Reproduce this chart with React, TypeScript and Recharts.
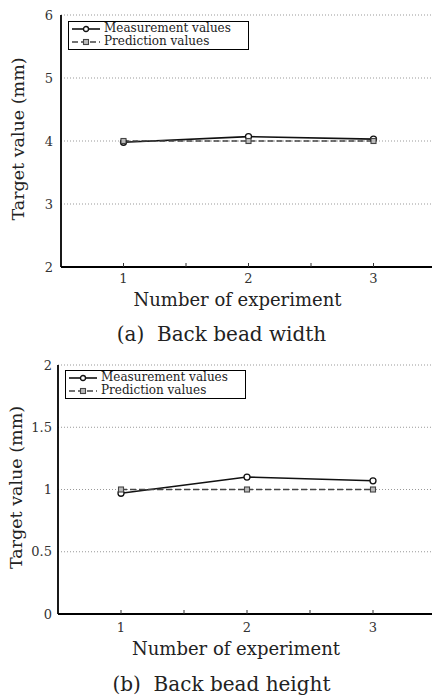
import React from "react";
import { LineChart, Line, XAxis, YAxis, CartesianGrid, Legend } from "recharts";

// ---- data ----
const experiments = [1, 2, 3];
const xTicks = [1, 1.5, 2, 2.5, 3];

const widthMeasured = [3.98, 4.07, 4.03];
const widthPredicted = [4.0, 4.0, 4.0];
const widthTicks = [2, 3, 4, 5, 6];

const heightMeasured = [0.97, 1.1, 1.07];
const heightPredicted = [1.0, 1.0, 1.0];
const heightTicks = [0, 0.5, 1, 1.5, 2];

const seriesNames = ["Measurement values", "Prediction values"];
const xTitle = "Number of experiment";
const yTitle = "Target value (mm)";
const captions = ["(a)  Back bead width", "(b)  Back bead height"];

const buildRows = (m: number[], p: number[]) =>
  experiments.map((x, i) => ({ x, measured: m[i], predicted: p[i] }));

const widthData = buildRows(widthMeasured, widthPredicted);
const heightData = buildRows(heightMeasured, heightPredicted);

const FONT = '"DejaVu Serif", "Liberation Serif", serif';

const CircleDot = (props: any) => {
  const { cx, cy, index } = props;
  if (cx == null || cy == null) return <g key={index} />;
  return <circle key={index} cx={cx} cy={cy} r={3} fill="#fff" stroke="#111" strokeWidth={1.3} />;
};

const SquareDot = (props: any) => {
  const { cx, cy, index } = props;
  if (cx == null || cy == null) return <g key={index} />;
  return (
    <rect key={index} x={cx - 2.5} y={cy - 2.5} width={5} height={5} fill="#bbb" stroke="#444" strokeWidth={1.1} />
  );
};

const BottomTick = (props: any) => {
  const { x, y, payload, labelDy } = props;
  const v = payload.value;
  return (
    <g>
      <line x1={x} x2={x} y1={y} y2={y - 4} stroke="#333" strokeWidth={1} />
      {Number.isInteger(v) ? (
        <text x={x} y={y + labelDy} textAnchor="middle" dominantBaseline="central" fontSize={13} fill="#333" fontFamily={FONT}>
          {v}
        </text>
      ) : null}
    </g>
  );
};

const TopTick = (props: any) => {
  const { x, y } = props;
  return <line x1={x} x2={x} y1={y} y2={y + 4} stroke="#333" strokeWidth={1} />;
};

const XTitle = (props: any) => {
  const { viewBox, text, dy, dx } = props;
  if (!viewBox) return null;
  return (
    <text
      x={viewBox.x + viewBox.width / 2 + dx}
      y={viewBox.y + dy}
      textAnchor="middle"
      dominantBaseline="central"
      fontSize={18}
      fill="#222"
      fontFamily={FONT}
    >
      {text}
    </text>
  );
};

const YTitle = (props: any) => {
  const { viewBox, text, cxPos } = props;
  if (!viewBox) return null;
  const cy = viewBox.y + viewBox.height / 2 - 2;
  return (
    <text
      x={cxPos}
      y={cy}
      transform={`rotate(-90 ${cxPos} ${cy})`}
      textAnchor="middle"
      dominantBaseline="central"
      fontSize={17.5}
      fill="#222"
      fontFamily={FONT}
    >
      {text}
    </text>
  );
};

const LegendBox = (props: any) => {
  const { payload } = props;
  return (
    <div
      style={{
        boxSizing: "border-box",
        width: 181,
        height: 29,
        border: "1.6px solid #000",
        background: "#fff",
        padding: "0 3px",
        fontFamily: FONT,
        fontSize: 12,
        color: "#222",
        textAlign: "left",
      }}
    >
      {(payload || []).map((entry: any, i: number) => {
        const dashed = !!entry.payload?.strokeDasharray;
        return (
          <div key={i} style={{ display: "flex", alignItems: "center", height: 13, lineHeight: "13px" }}>
            <svg width={28} height={10} style={{ marginRight: 4 }}>
              <line
                x1={0}
                x2={28}
                y1={5}
                y2={5}
                stroke={entry.color}
                strokeWidth={1.6}
                strokeDasharray={dashed ? "6 3" : undefined}
              />
              {dashed ? (
                <rect x={11.5} y={2.5} width={5} height={5} fill="#bbb" stroke="#444" strokeWidth={1.1} />
              ) : (
                <circle cx={14} cy={5} r={2.5} fill="#fff" stroke="#111" strokeWidth={1.3} />
              )}
            </svg>
            <span style={{ whiteSpace: "nowrap" }}>{entry.value}</span>
          </div>
        );
      })}
    </div>
  );
};

type PanelProps = {
  top: number;
  data: any[];
  yTicks: number[];
  yAxisWidth: number;
  plotHeight: number;
  tickMargin: number;
  legendTop: number;
  legendLeft: number;
  yTitleX: number;
  xTitleDy: number;
  tickDy: number;
  caption: string;
  captionTop: number;
};

const Panel = (p: PanelProps) => {
  const chartWidth = 440;
  const marginTop = 15;
  const xAxisHeight = 45;
  const chartHeight = marginTop + p.plotHeight + xAxisHeight;
  return (
    <>
      <div style={{ position: "absolute", left: 0, top: p.top }}>
        <LineChart
          width={chartWidth}
          height={chartHeight}
          data={p.data}
          margin={{ top: marginTop, right: 4, left: 0, bottom: 0 }}
        >
          <CartesianGrid vertical={false} stroke="#999" strokeDasharray="1 2" />
          <XAxis
            dataKey="x"
            type="number"
            domain={[0.5, 3.5]}
            ticks={xTicks}
            allowDataOverflow
            height={xAxisHeight}
            tickLine={false}
            tickSize={0}
            tickMargin={0}
            axisLine={{ stroke: "#000", strokeWidth: 1.8 }}
            tick={<BottomTick labelDy={p.tickDy} />}
            interval={0}
            label={<XTitle text={xTitle} dy={p.xTitleDy} dx={-11} />}
          />
          <XAxis
            xAxisId="top"
            orientation="top"
            dataKey="x"
            type="number"
            domain={[0.5, 3.5]}
            ticks={xTicks}
            allowDataOverflow
            height={0}
            tickLine={false}
            tickSize={0}
            tickMargin={0}
            interval={0}
            axisLine={{ stroke: "#000", strokeWidth: 1.8 }}
            tick={<TopTick />}
          />
          <YAxis
            type="number"
            domain={[p.yTicks[0], p.yTicks[p.yTicks.length - 1]]}
            ticks={p.yTicks}
            width={p.yAxisWidth}
            interval={0}
            tickLine={false}
            tickSize={0}
            tickMargin={p.tickMargin}
            axisLine={{ stroke: "#000", strokeWidth: 1.8 }}
            tick={{ fill: "#333", fontSize: 13, fontFamily: FONT }}
            label={<YTitle text={yTitle} cxPos={p.yTitleX} />}
          />
          <Legend
            layout="horizontal"
            verticalAlign="middle"
            align="center"
            wrapperStyle={{ top: p.legendTop, left: p.legendLeft, width: "auto", right: "auto", bottom: "auto" }}
            content={<LegendBox />}
          />
          <Line
            name={seriesNames[0]}
            dataKey="measured"
            stroke="#111"
            strokeWidth={1.6}
            dot={<CircleDot />}
            activeDot={false}
            isAnimationActive={false}
          />
          <Line
            name={seriesNames[1]}
            dataKey="predicted"
            stroke="#444"
            strokeWidth={1.4}
            strokeDasharray="6 3"
            dot={<SquareDot />}
            activeDot={false}
            isAnimationActive={false}
          />
        </LineChart>
      </div>
      <div
        style={{
          position: "absolute",
          left: 0,
          width: 443,
          top: p.captionTop,
          lineHeight: "24px",
          textAlign: "center",
          whiteSpace: "pre",
          fontSize: 20,
          color: "#222",
          fontFamily: FONT,
        }}
      >
        {p.caption}
      </div>
    </>
  );
};

export default function App() {
  return (
    <div
      style={{
        position: "absolute",
        left: 0,
        top: 0,
        width: 432,
        height: 695,
        overflow: "hidden",
        background: "#fff",
        fontFamily: FONT,
      }}
    >
      <Panel
        top={0}
        data={widthData}
        yTicks={widthTicks}
        yAxisWidth={61}
        plotHeight={252}
        tickMargin={8}
        legendTop={21}
        legendLeft={68}
        yTitleX={18}
        xTitleDy={32}
        tickDy={11}
        caption={captions[0]}
        captionTop={322}
      />
      <Panel
        top={350}
        data={heightData}
        yTicks={heightTicks}
        yAxisWidth={58}
        plotHeight={249}
        tickMargin={6}
        legendTop={20}
        legendLeft={65}
        yTitleX={16}
        xTitleDy={34}
        tickDy={13}
        caption={captions[1]}
        captionTop={672}
      />
    </div>
  );
}
